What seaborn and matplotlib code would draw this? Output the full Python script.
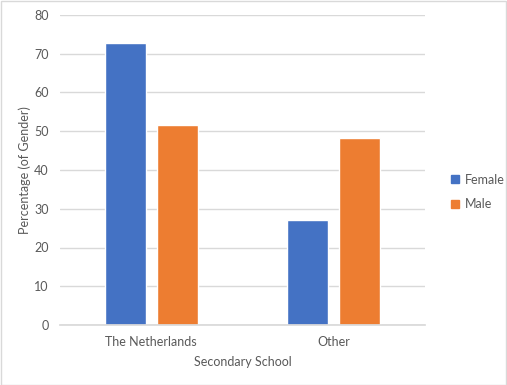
import pandas as pd
import matplotlib.pyplot as plt
import seaborn as sns
from matplotlib.patches import Rectangle

schools = ["The Netherlands", "Other"]
genders = ["Female", "Male"]
female_pct = [72.8, 27.2]
male_pct = [51.7, 48.3]

df = pd.DataFrame({
    "school": schools * 2,
    "gender": ["Female"] * 2 + ["Male"] * 2,
    "pct": female_pct + male_pct,
})

sns.set_theme(style="white")
plt.rcParams['font.family'] = ['Lato', 'DejaVu Sans']
txt = '#595959'

fig = plt.figure(figsize=(5.07, 3.85), dpi=100)
ax = fig.add_axes([60/507, 60/385, 365/507, 310/385])

sns.barplot(data=df, x="school", y="pct", hue="gender", hue_order=genders,
            palette=['#4472C4', '#ED7D31'], width=0.57, gap=0.21,
            saturation=1, ax=ax, legend=False)

ax.set_ylim(0, 80)
ax.set_yticks(range(0, 81, 10))
ax.set_xlim(-0.5, 1.5)
ax.grid(axis='y', color='#d9d9d9', linewidth=1)
ax.set_axisbelow(True)
for s in ['top', 'right', 'left']:
    ax.spines[s].set_visible(False)
ax.spines['bottom'].set_color('#d9d9d9')
ax.tick_params(axis='both', length=0, labelsize=9, labelcolor=txt, pad=8)
ax.set_xlabel("Secondary School", fontsize=9, color=txt, labelpad=6)
ax.set_ylabel("Percentage (of Gender)", fontsize=9, color=txt, labelpad=2)

handles = [Rectangle((0, 0), 1, 1, color=c) for c in ['#4472C4', '#ED7D31']]
leg = fig.legend(handles, genders, loc='center left', bbox_to_anchor=(440/507, 1 - 192/385),
                 frameon=False, fontsize=9, handlelength=0.6, handleheight=0.6,
                 handletextpad=0.5, labelspacing=1.0)
for t in leg.get_texts():
    t.set_color(txt)

fig.patches.append(Rectangle((0.001, 0.001), 0.997, 0.997, transform=fig.transFigure,
                             fill=False, edgecolor='#d9d9d9', linewidth=1))

fig.savefig('out.png', dpi=100)
